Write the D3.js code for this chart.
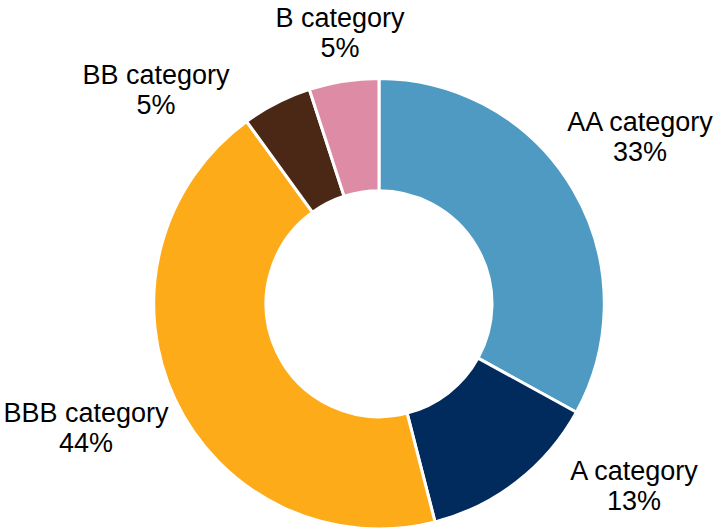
<!DOCTYPE html>
<html>
<head>
<meta charset="utf-8">
<script src="https://cdn.jsdelivr.net/npm/d3@7"></script>
<style>
html,body{margin:0;padding:0;background:#fff;}
svg{display:block;}
</style>
</head>
<body>
<svg id="chart" width="717" height="529"></svg>
<script>
const categories = ["AA category", "A category", "BBB category", "BB category", "B category"];
const values = [33, 13, 44, 5, 5];
const colors = ["#4E9AC3", "#002B5C", "#FEAB19", "#4B2815", "#DE8BA5"];

// layout (label anchor centres, first line baseline)
const labelPos = [[640, 131], [634, 480], [86, 422], [156, 84], [340, 27]];

const W = 717, H = 529;
const cx = 379, cy = 303.7, rOuter = 225.3, rInner = 113;

const svg = d3.select("#chart");
const g = svg.append("g").attr("transform", `translate(${cx},${cy})`);

const data = categories.map((c, i) => ({cat: c, value: values[i], color: colors[i]}));
const total = d3.sum(values);

const pie = d3.pie().value(d => d.value).sort(null);
const arc = d3.arc().innerRadius(rInner).outerRadius(rOuter);

g.selectAll("path").data(pie(data)).join("path")
  .attr("d", arc)
  .attr("fill", d => d.data.color)
  .attr("stroke", "#fff")
  .attr("stroke-width", 3)
  .attr("stroke-linejoin", "miter");

const fmt = d3.format(".0%");
const labels = svg.selectAll("text.lbl").data(data).join("text")
  .attr("class", "lbl")
  .attr("text-anchor", "middle")
  .attr("font-family", "Liberation Sans, Arial, sans-serif")
  .attr("font-size", 27)
  .attr("fill", "#000");
labels.append("tspan")
  .attr("x", (d, i) => labelPos[i][0])
  .attr("y", (d, i) => labelPos[i][1])
  .text(d => d.cat);
labels.append("tspan")
  .attr("x", (d, i) => labelPos[i][0])
  .attr("y", (d, i) => labelPos[i][1] + 30)
  .text(d => fmt(d.value / total));
</script>
</body>
</html>
